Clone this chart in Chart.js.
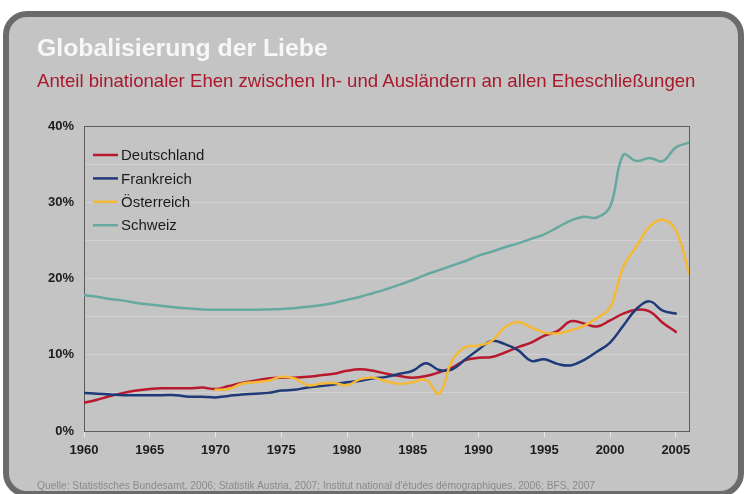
<!DOCTYPE html>
<html>
<head>
<meta charset="utf-8">
<script src="https://cdn.jsdelivr.net/npm/chart.js@4.4.0/dist/chart.umd.min.js"></script>
<style>
  html, body { margin:0; padding:0; background:#ffffff; }
  body { width:745px; height:494px; overflow:hidden; position:relative; font-family:"Liberation Sans", Arial, sans-serif; }
  #frame { position:absolute; left:3px; top:11px; width:741px; height:486px; box-sizing:border-box;
           border:6px solid #6b6b6b; border-radius:24px; background:#c4c4c4; }
  #chart { position:absolute; left:0; top:0; }
  .txt { position:absolute; white-space:nowrap; line-height:1; }
  #title { left:37px; top:36px; font-size:24.8px; font-weight:bold; color:#f7f7f7; }
  #subtitle { left:37px; top:72px; font-size:18.6px; color:#a8192c; }
  #source { left:37px; top:481px; font-size:10.25px; color:#8a8a8a; }
</style>
</head>
<body>
<div id="frame"></div>
<canvas id="chart" width="745" height="494"></canvas>
<div class="txt" id="title">Globalisierung der Liebe</div>
<div class="txt" id="subtitle">Anteil binationaler Ehen zwischen In- und Ausländern an allen Eheschließungen</div>
<div class="txt" id="source">Quelle: Statistisches Bundesamt, 2006; Statistik Austria, 2007; Institut national d'études démographiques, 2006; BFS, 2007</div>
<script>
// ---- data ----
const years = [1960,1961,1962,1963,1964,1965,1966,1967,1968,1969,
               1970,1971,1972,1973,1974,1975,1976,1977,1978,1979,
               1980,1981,1982,1983,1984,1985,1986,1987,1988,1989,
               1990,1991,1992,1993,1994,1995,1996,1997,1998,1999,
               2000,2001,2002,2003,2004,2005,2006];

const seriesNames = ["Deutschland", "Frankreich", "Österreich", "Schweiz"];

const deutschland = [3.7,4.1,4.6,5.0,5.3,5.5,5.6,5.6,5.6,5.7,
                     5.5,5.9,6.3,6.6,6.9,7.0,7.0,7.1,7.3,7.5,
                     7.9,8.1,7.9,7.5,7.2,7.0,7.2,7.7,8.3,9.3,
                     9.6,9.7,10.3,11.0,11.6,12.5,13.1,14.4,14.1,13.7,
                     14.5,15.4,15.9,15.7,14.2,13.0,null];

const frankreich = [5.0,4.9,4.8,4.7,4.7,4.7,4.7,4.7,4.5,4.5,
                    4.4,4.6,4.8,4.9,5.0,5.3,5.4,5.7,5.9,6.1,
                    6.4,6.6,6.9,7.1,7.5,7.9,8.9,8.0,8.1,9.4,
                    10.7,11.8,11.4,10.6,9.2,9.4,8.8,8.6,9.3,10.4,
                    11.6,13.8,16.0,17.0,15.8,15.4,null];

const oesterreich = [null,null,null,null,null,null,null,null,null,null,
                     5.4,5.5,6.2,6.4,6.6,7.1,6.9,6.0,6.2,6.3,
                     6.0,6.8,7.0,6.5,6.2,6.4,6.7,4.9,9.3,11.0,
                     11.2,11.8,13.6,14.3,13.6,12.9,12.8,13.2,13.8,14.8,
                     16.2,21.5,24.2,26.8,27.7,26.3,20.7];

const schweiz = [17.8,17.6,17.3,17.1,16.8,16.6,16.4,16.2,16.05,15.95,
                 15.9,15.9,15.9,15.9,15.95,16.0,16.1,16.3,16.5,16.8,
                 17.2,17.6,18.1,18.6,19.2,19.8,20.5,21.1,21.7,22.3,
                 23.0,23.5,24.1,24.6,25.2,25.8,26.7,27.6,28.1,28.0,
                 29.4,36.2,35.4,35.8,35.4,37.2,37.8];

const yTickValues = [0, 10, 20, 30, 40];
const xTickValues = [1960,1965,1970,1975,1980,1985,1990,1995,2000,2005];

const colors = ["#b8192c", "#1e3a78", "#f5b935", "#66a9a0"];
const FONT = '"Liberation Sans", Arial, sans-serif';

function toPoints(vals) {
  return years.map((y, i) => ({ x: y, y: vals[i] }));
}
const allSeries = [deutschland, frankreich, oesterreich, schweiz];

const boxPlugin = {
  id: 'box',
  beforeDatasetsDraw(chart) {
    const a = chart.chartArea, ctx = chart.ctx;
    ctx.save();
    ctx.strokeStyle = '#5c5c5c';
    ctx.lineWidth = 1;
    ctx.strokeRect(Math.round(a.left) + 0.5, Math.round(a.top) + 0.5,
                   Math.round(a.right - a.left), Math.round(a.bottom - a.top));
    ctx.restore();
  }
};

const legendPlugin = {
  id: 'innerLegend',
  afterDatasetsDraw(chart) {
    const ctx = chart.ctx;
    ctx.save();
    chart.data.datasets.forEach((ds, i) => {
      const y = 155 + i * 23.4;
      ctx.strokeStyle = ds.borderColor;
      ctx.lineWidth = 2.5;
      ctx.beginPath();
      ctx.moveTo(93, y);
      ctx.lineTo(118, y);
      ctx.stroke();
      ctx.fillStyle = '#1c1c1c';
      ctx.font = '15px ' + FONT;
      ctx.textBaseline = 'middle';
      ctx.textAlign = 'left';
      ctx.fillText(ds.label, 121, y + 1);
    });
    ctx.restore();
  }
};

new Chart(document.getElementById('chart'), {
  type: 'line',
  data: {
    datasets: allSeries.map((vals, i) => ({
      label: seriesNames[i],
      data: toPoints(vals),
      borderColor: colors[i],
      backgroundColor: colors[i],
      borderWidth: 2.5,
      pointRadius: 0,
      tension: 0.4,
      fill: false,
      spanGaps: false,
      borderCapStyle: 'round',
      borderJoinStyle: 'round',
      order: 4 - i
    }))
  },
  options: {
    responsive: false,
    animation: false,
    devicePixelRatio: 1,
    layout: { padding: { top: 126, right: 56, left: 0, bottom: 0 } },
    plugins: {
      legend: { display: false },
      title: { display: false },
      tooltip: { enabled: false }
    },
    scales: {
      x: {
        type: 'linear',
        min: 1960,
        max: 2006,
        afterFit(s) { s.height = 63; },
        afterBuildTicks(s) { s.ticks = xTickValues.map(v => ({ value: v })); },
        ticks: {
          stepSize: 5,
          includeBounds: false,
          autoSkip: false,
          maxRotation: 0,
          padding: 6,
          color: '#1c1c1c',
          font: { family: FONT, size: 13, weight: 'bold' },
          callback: v => String(v)
        },
        grid: {
          drawOnChartArea: false,
          drawTicks: true,
          tickLength: 6,
          color: 'rgba(235,235,235,0.9)'
        },
        border: { display: true, color: '#5c5c5c', width: 1 }
      },
      y: {
        min: 0,
        max: 40,
        afterFit(s) { s.width = 84; },
        ticks: {
          stepSize: 5,
          padding: 10,
          color: '#1c1c1c',
          font: { family: FONT, size: 13, weight: 'bold' },
          callback: v => (yTickValues.includes(v) ? v + '%' : '')
        },
        grid: {
          drawTicks: false,
          color: ctx => (ctx.tick && (ctx.tick.value === 0 || ctx.tick.value === 40))
                          ? 'rgba(0,0,0,0)' : 'rgba(255,255,255,0.22)'
        },
        border: { display: true, color: '#5c5c5c', width: 1 }
      }
    }
  },
  plugins: [boxPlugin, legendPlugin]
});
</script>
</body>
</html>
